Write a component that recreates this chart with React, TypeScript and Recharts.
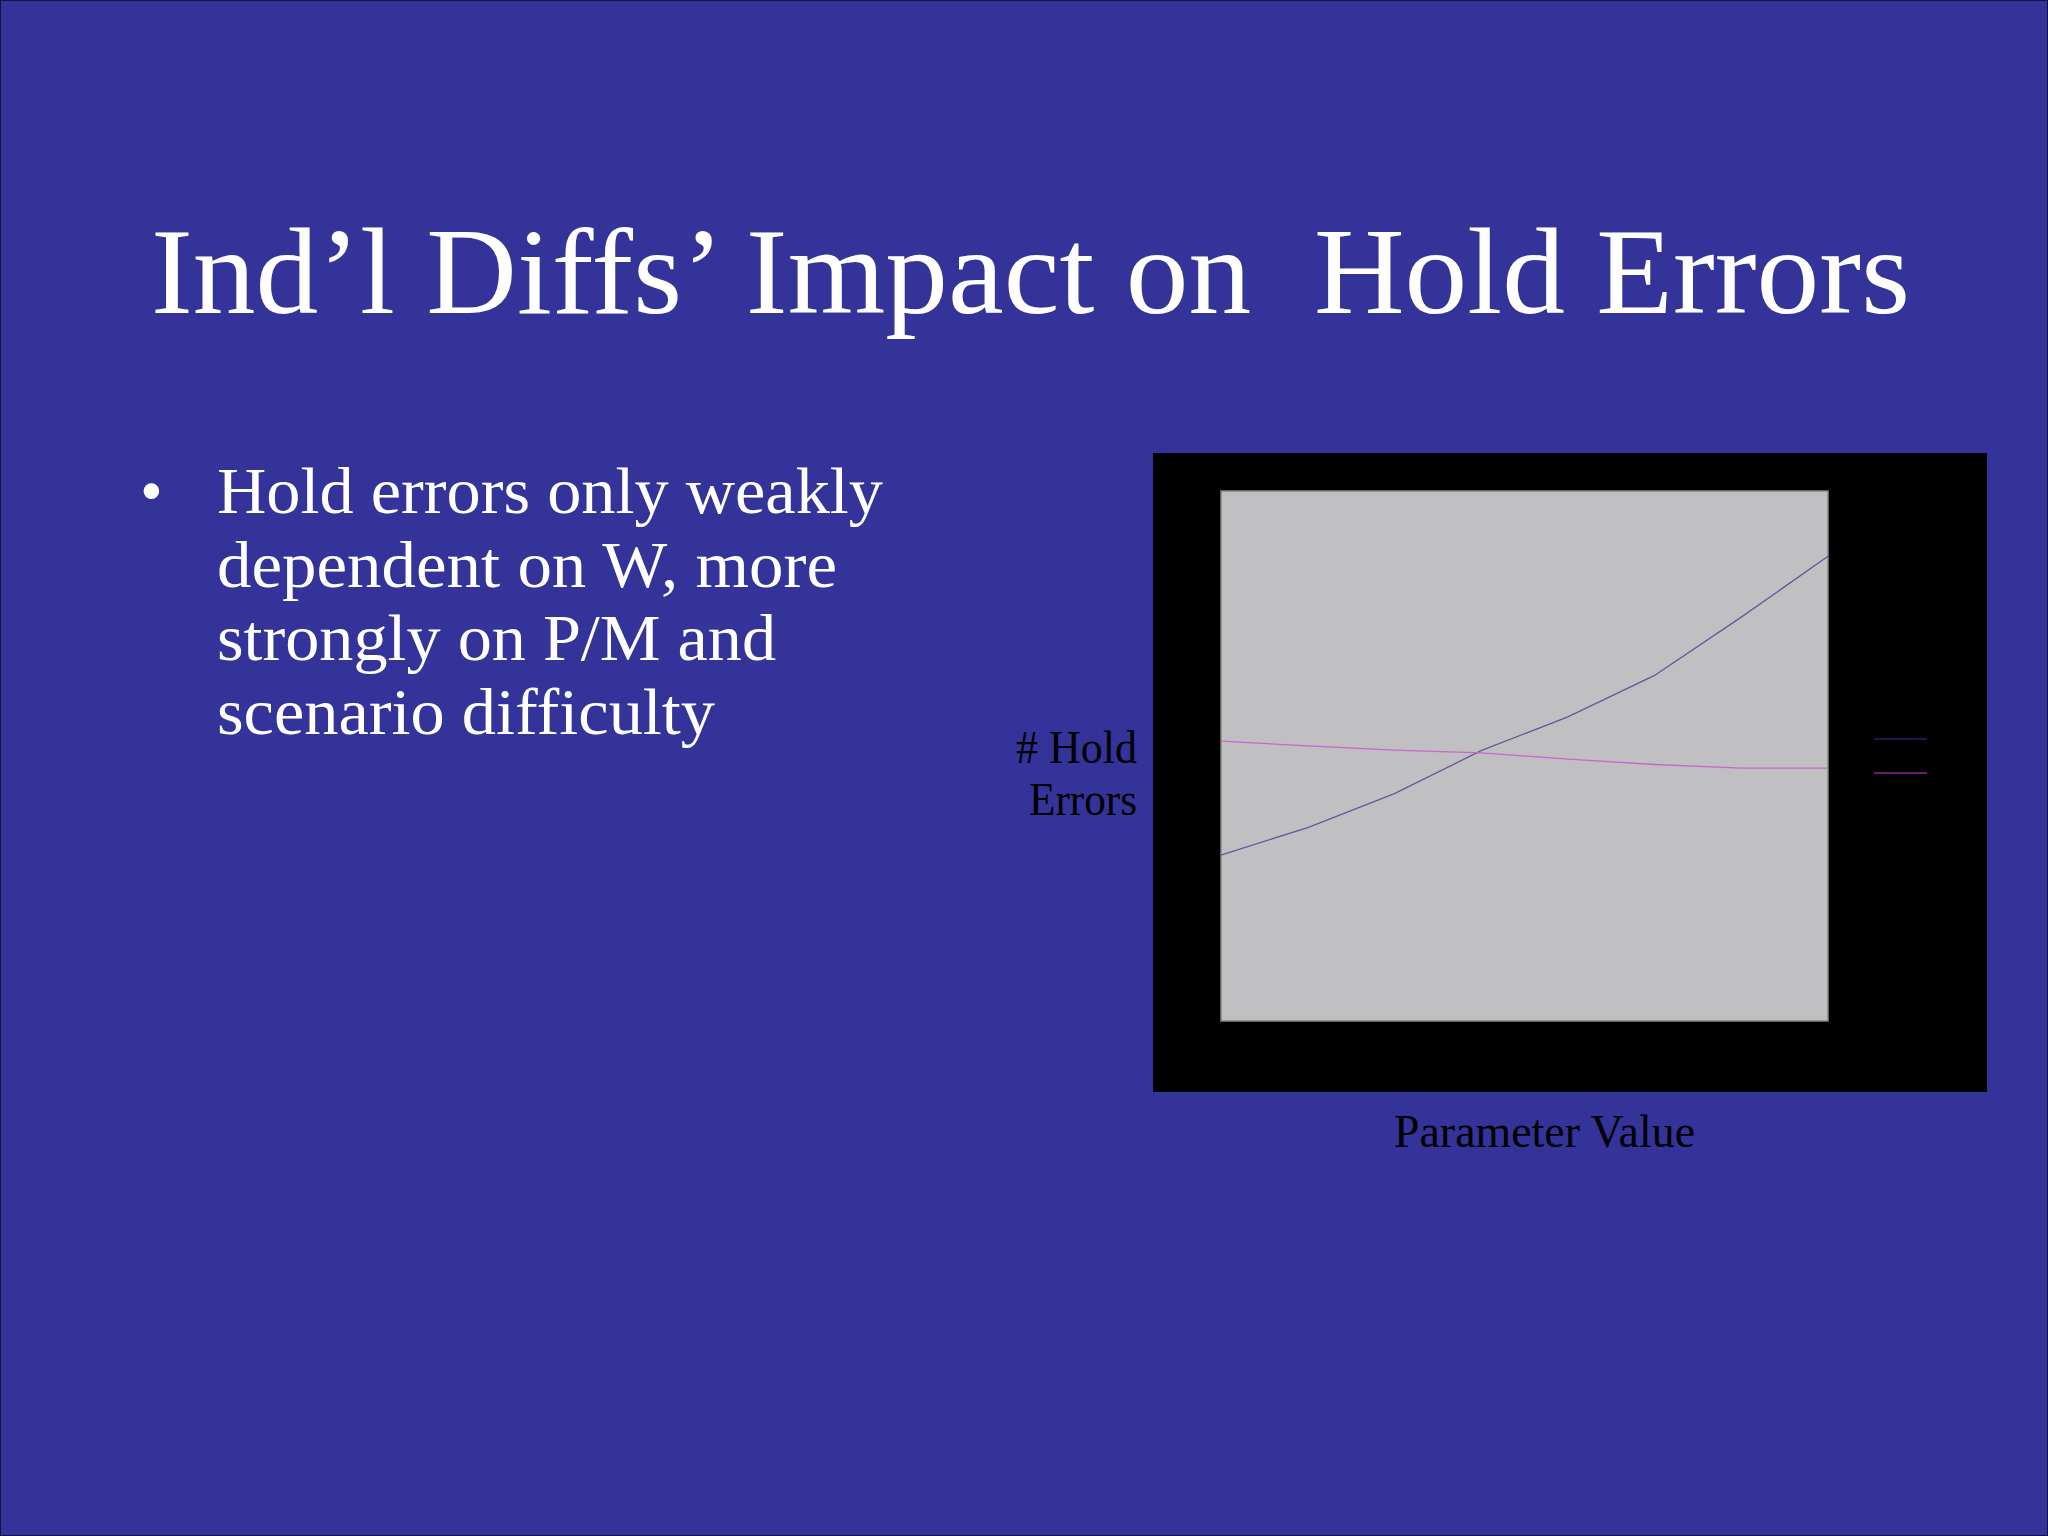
import React from "react";
import { LineChart, Line, XAxis, YAxis, ReferenceArea } from "recharts";

const paramSteps = [1, 2, 3, 4, 5, 6, 7, 8];
const seriesW = [31.3, 36.5, 42.9, 51.0, 57.4, 65.2, 76.2, 87.7];
const seriesPM = [52.8, 51.9, 51.1, 50.6, 49.4, 48.4, 47.7, 47.7];
const seriesNames = ["Series A", "Series B"];
const seriesColors = ["#5c5a9c", "#cc66cc"];
const legendColors = ["#1b1650", "#6e1a70"];

const bulletLines = [
  "Hold errors only weakly",
  "dependent on W, more",
  "strongly on P/M and",
  "scenario difficulty",
];
const bulletWidths = [666, 620, 559, 498];

const data = paramSteps.map((x, i) => ({ x, a: seriesW[i], b: seriesPM[i] }));

const FONT = "'Liberation Serif', 'Times New Roman', serif";

export default function App() {
  return (
    <div
      style={{
        position: "absolute",
        left: 0,
        top: 0,
        width: 2048,
        height: 1536,
        background: "#333399",
        boxSizing: "border-box",
        border: "1px solid #15153a",
        overflow: "hidden",
      }}
    >
      <svg width={2048} height={1536} style={{ position: "absolute", left: -1, top: -1 }}>
        <text
          x={151}
          y={313}
          fontFamily={FONT}
          fontSize={122}
          fill="#ffffff"
          textLength={1759}
          lengthAdjust="spacingAndGlyphs"
        >
          {"Ind\u2019l Diffs\u2019 Impact on\u00a0 Hold Errors"}
        </text>
        <text x={140} y={513} fontFamily={FONT} fontSize={65} fill="#ffffff">
          {"\u2022"}
        </text>
        {bulletLines.map((t, i) => (
          <text
            key={i}
            x={217}
            y={513 + i * 73.7}
            fontFamily={FONT}
            fontSize={65}
            fill="#ffffff"
            textLength={bulletWidths[i]}
            lengthAdjust="spacingAndGlyphs"
          >
            {t}
          </text>
        ))}
        <text x={1016} y={763} fontFamily={FONT} fontSize={46} fill="#000000" textLength={121} lengthAdjust="spacingAndGlyphs">
          # Hold
        </text>
        <text x={1029} y={815} fontFamily={FONT} fontSize={46} fill="#000000" textLength={108} lengthAdjust="spacingAndGlyphs">
          Errors
        </text>
        <text x={1394} y={1147} fontFamily={FONT} fontSize={47} fill="#000000" textLength={301} lengthAdjust="spacingAndGlyphs">
          Parameter Value
        </text>
      </svg>
      <div style={{ position: "absolute", left: 1152, top: 452, width: 834, height: 639, background: "#000000" }}>
        <LineChart
          width={834}
          height={639}
          data={data}
          margin={{ top: 38, right: 159, bottom: 71, left: 68 }}
        >
          <XAxis dataKey="x" type="number" domain={[1, 8]} hide />
          <YAxis type="number" domain={[0, 100]} hide />
          <ReferenceArea x1={1} x2={8} y1={0} y2={100} fill="#c0bfc2" fillOpacity={1} stroke="#858585" strokeWidth={1.5} />
          <Line
            dataKey="a"
            name={seriesNames[0]}
            stroke={seriesColors[0]}
            strokeWidth={1.3}
            dot={false}
            isAnimationActive={false}
          />
          <Line
            dataKey="b"
            name={seriesNames[1]}
            stroke={seriesColors[1]}
            strokeWidth={1.3}
            dot={false}
            isAnimationActive={false}
          />
        </LineChart>
      </div>
      <svg width={70} height={50} style={{ position: "absolute", left: 1866, top: 730 }}>
        {legendColors.map((c, i) => (
          <line key={i} x1={7} x2={60} y1={8 + i * 34} y2={8 + i * 34} stroke={c} strokeWidth={2} />
        ))}
      </svg>
    </div>
  );
}
